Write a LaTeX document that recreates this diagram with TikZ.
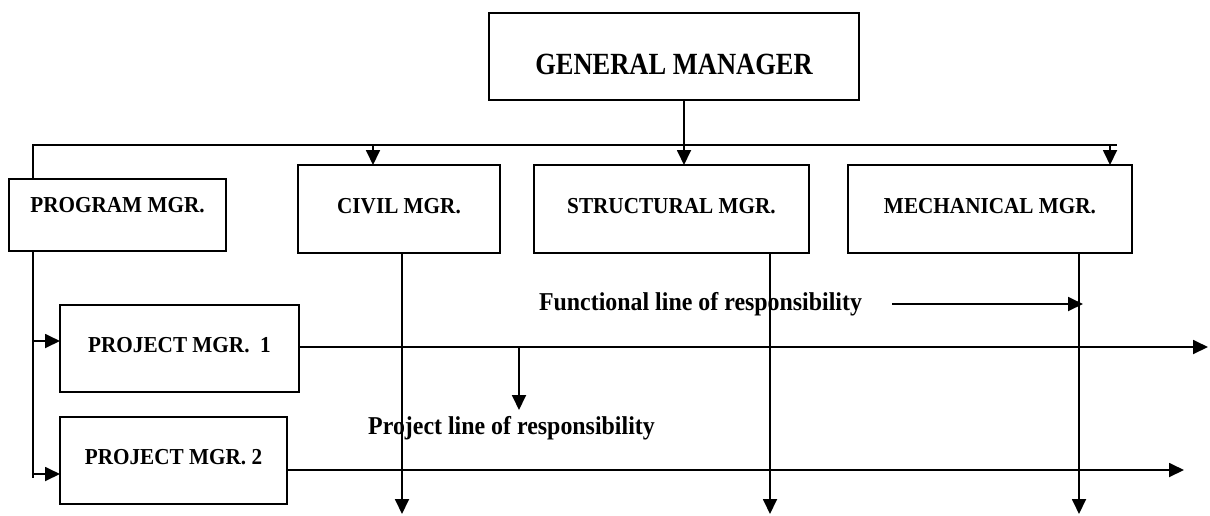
\documentclass[tikz,border=0pt]{standalone}
\usepackage{fontspec}
\setmainfont[FakeStretch=0.93]{Liberation Serif}
\newfontfamily\headfont[FakeStretch=0.86]{Liberation Serif}
\usetikzlibrary{arrows.meta}

\tikzset{
  mgrbox/.style={draw, line width=1.8pt, inner sep=0pt, outer sep=0pt, anchor=base,
                 font=\bfseries\fontsize{22.8}{24}\selectfont},
  topbox/.style={mgrbox, text height=48pt, text depth=40pt},
  projbox/.style={mgrbox, text height=47pt, text depth=40pt},
  linelabel/.style={inner sep=0pt, anchor=base, font=\bfseries\fontsize{25.7}{27}\selectfont},
  wire/.style={line width=1.8pt},
  arr/.style={wire, -{Triangle[length=15pt,width=14pt]}}
}

\begin{document}
\begin{tikzpicture}[x=1pt, y=-1pt]
\useasboundingbox (0,0) rectangle (1210,515);

% managers
\node[mgrbox, text height=61pt, text depth=26pt, minimum width=370pt,
      font=\headfont\bfseries\fontsize{30.8}{32}\selectfont] (gm) at (674,74) {GENERAL MANAGER};
\node[mgrbox, text height=33pt, text depth=39pt, minimum width=217pt] (prog) at (117.5,212) {PROGRAM MGR.};
\node[topbox, minimum width=202pt] (civil) at (399,213) {CIVIL MGR.};
\node[topbox, minimum width=275pt] (struct) at (671.5,213) {STRUCTURAL MGR.};
\node[topbox, minimum width=284pt] (mech) at (990,213) {MECHANICAL MGR.};
\node[projbox, minimum width=239pt] (pm1) at (179.5,352) {PROJECT MGR.\ \ 1};
\node[projbox, minimum width=227pt] (pm2) at (173.5,464) {PROJECT MGR. 2};

% labels
\node[linelabel] (funclbl) at (700.5,310) {Functional line of responsibility};
\node[linelabel] (projlbl) at (511.5,434) {Project line of responsibility};

% reference coordinates
\coordinate (busL) at (33,145);
\coordinate (busR) at (1117,145);
\coordinate (tc) at (373,145);
\coordinate (ts) at (684,145);
\coordinate (tm) at (1110,145);
\coordinate (pgEnd) at (33,478);
\coordinate (a1) at (33,341);
\coordinate (a2) at (33,474);
\coordinate (p1end) at (1208,347);
\coordinate (p2end) at (1184,470);
\coordinate (dc) at (402,514);
\coordinate (ds) at (770,514);
\coordinate (dm) at (1079,514);
\coordinate (pdrop) at (519,347);
\coordinate (pdropEnd) at (519,410);
\coordinate (fStart) at (892,304);
\coordinate (fEnd) at (1083,304);

% general manager to functional managers
\draw[wire] (busL |- prog.north) -- (busL) -- (busR);
\draw[arr] (ts |- gm.south) -- (ts |- struct.north);
\draw[arr] (tc) -- (tc |- civil.north);
\draw[arr] (tm) -- (tm |- mech.north);

% program manager to project managers
\draw[wire] (busL |- prog.south) -- (pgEnd);
\draw[arr] (a1) -- (a1 -| pm1.west);
\draw[arr] (a2) -- (a2 -| pm2.west);

% project lines
\draw[arr] (p1end -| pm1.east) -- (p1end);
\draw[arr] (p2end -| pm2.east) -- (p2end);

% functional lines
\draw[arr] (dc |- civil.south) -- (dc);
\draw[arr] (ds |- struct.south) -- (ds);
\draw[arr] (dm |- mech.south) -- (dm);

% legend arrows
\draw[arr] (pdrop) -- (pdropEnd);
\draw[arr] (fStart) -- (fEnd);
\end{tikzpicture}
\end{document}
